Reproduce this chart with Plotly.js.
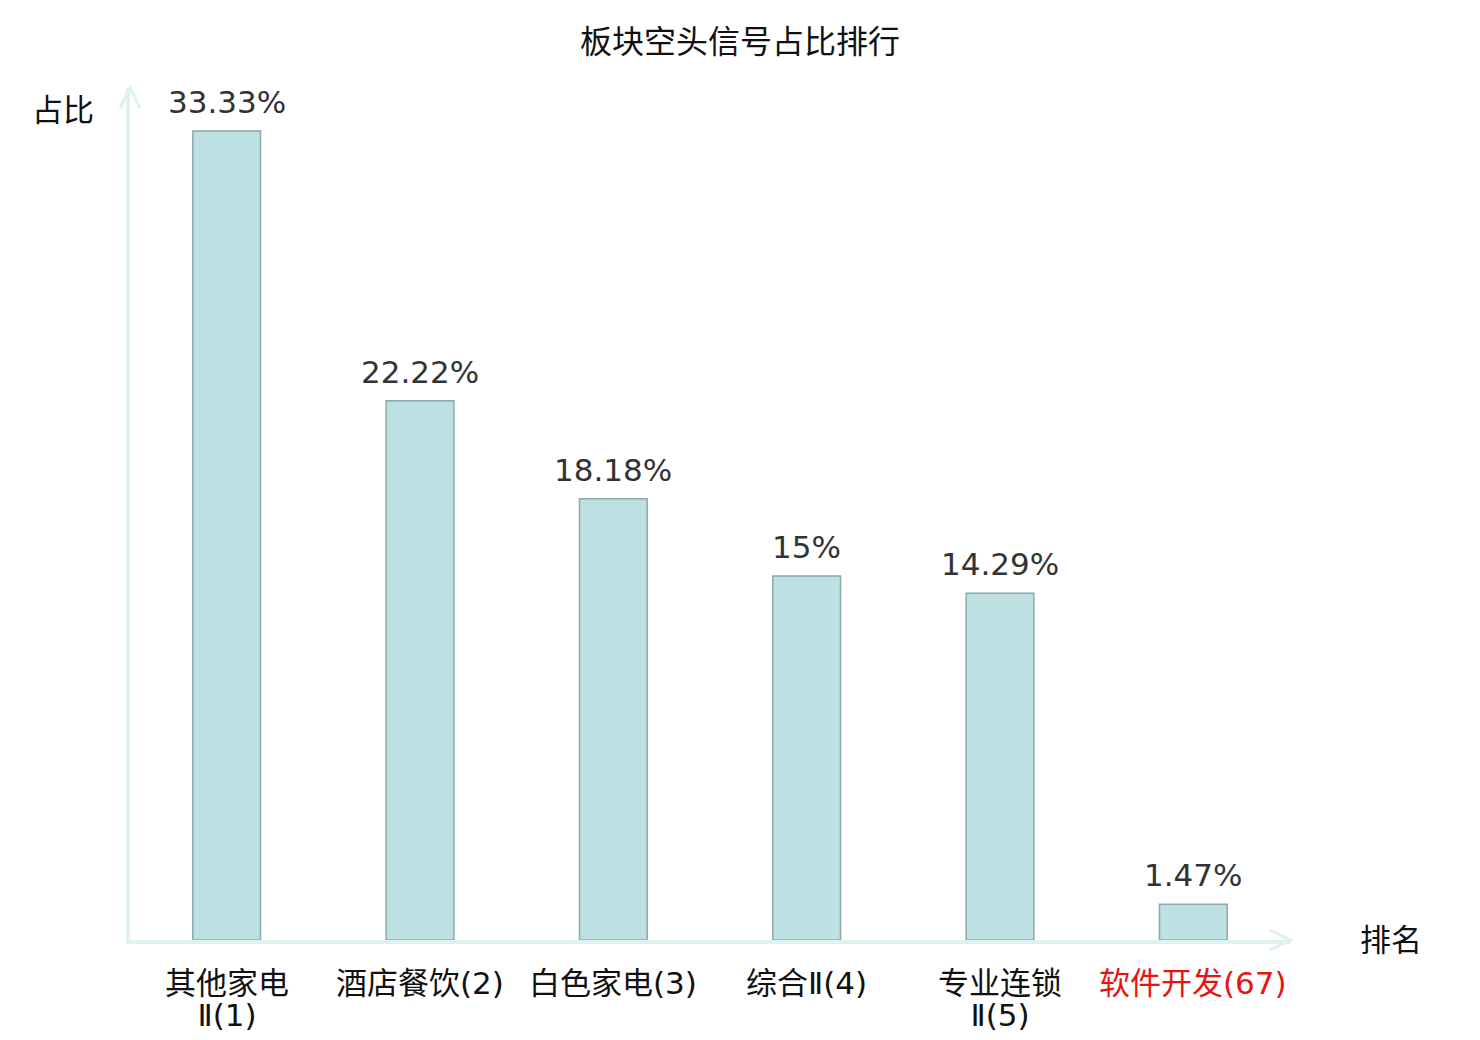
<!DOCTYPE html>
<html>
<head>
<meta charset="utf-8">
<script src="https://cdn.plot.ly/plotly-3.0.1.min.js"></script>
<style>
  html, body { margin: 0; padding: 0; background: #fff; }
  #chart { width: 1480px; height: 1040px; }
</style>
</head>
<body>
<div id="chart"></div>
<script>
  // ---------- Data ----------
  const labelLine1 = ["其他家电", "酒店餐饮(2)", "白色家电(3)", "综合Ⅱ(4)", "专业连锁", "软件开发(67)"];
  const labelLine2 = ["Ⅱ(1)", "", "", "", "Ⅱ(5)", ""];
  const shares = [33.33, 22.22, 18.18, 15, 14.29, 1.47];
  const valueText = ["33.33%", "22.22%", "18.18%", "15%", "14.29%", "1.47%"];
  const highlight = [false, false, false, false, false, true];

  // ---------- Style ----------
  const FONT = "DejaVu Sans, Noto Sans CJK SC, sans-serif";
  const AXIS_C = "#dff2ef";
  const idx = shares.map((_, i) => i);

  const trace = {
    type: "bar",
    x: idx,
    y: shares,
    width: 0.35,
    marker: { color: "#bde0e3", line: { color: "#8ea8a8", width: 1.5 } },
    hoverinfo: "skip",
  };

  const annotations = [];
  // value labels above the bars
  idx.forEach(i => {
    annotations.push({
      x: i, y: shares[i], xref: "x", yref: "y",
      text: valueText[i], showarrow: false,
      yanchor: "bottom", yshift: 9,
      font: { family: FONT, size: 31, color: "#333333" },
    });
  });
  // category labels under the axis (tight two-line labels: small base size
  // sets the line pitch, span sets the glyph size)
  idx.forEach(i => {
    const color = highlight[i] ? "#e8140f" : "#111111";
    const lines = [labelLine1[i]];
    if (labelLine2[i]) lines.push(labelLine2[i]);
    annotations.push({
      x: i, y: 0, xref: "x", yref: "paper",
      text: lines.map(t => '<span style="font-size:31px">' + t + "</span>").join("<br>"),
      showarrow: false,
      yanchor: "top", yshift: -23,
      font: { family: FONT, size: 24.6, color: color },
    });
  });
  // axis names
  annotations.push({
    x: -0.058, y: 1, xref: "paper", yref: "paper",
    text: "占比", showarrow: false, xanchor: "center", yanchor: "middle", yshift: -22,
    font: { family: FONT, size: 31, color: "#111111" },
  });
  annotations.push({
    x: 1.087, y: 0, xref: "paper", yref: "paper",
    text: "排名", showarrow: false, xanchor: "center", yanchor: "middle",
    font: { family: FONT, size: 31, color: "#111111" },
  });

  // arrow heads at the axis ends
  const shapes = [
    {
      type: "path", xref: "paper", yref: "paper",
      xsizemode: "pixel", ysizemode: "pixel", xanchor: 1, yanchor: 0,
      path: "M-20,10 L0,0 L-20,-10",
      line: { color: AXIS_C, width: 3.5 },
    },
    {
      type: "path", xref: "paper", yref: "paper",
      xsizemode: "pixel", ysizemode: "pixel", xanchor: 0, yanchor: 1,
      path: "M-10,-20 L0,0 L10,-20",
      line: { color: AXIS_C, width: 3.5 },
    },
  ];

  const layout = {
    width: 1480,
    height: 1040,
    paper_bgcolor: "#ffffff",
    plot_bgcolor: "#ffffff",
    margin: { l: 130, r: 190, t: 88, b: 100 },
    title: {
      text: "板块空头信号占比排行",
      x: 0.5, xref: "container", xanchor: "center",
      y: 0.9596, yref: "container", yanchor: "middle",
      font: { family: FONT, size: 32, color: "#111111" },
    },
    showlegend: false,
    xaxis: {
      range: [-0.5, 5.5],
      showgrid: false, zeroline: false,
      showline: true, linecolor: AXIS_C, linewidth: 4,
      showticklabels: false, ticks: "",
      fixedrange: true,
    },
    yaxis: {
      range: [0, 35.1],
      showgrid: false, zeroline: false,
      showline: true, linecolor: AXIS_C, linewidth: 4,
      showticklabels: false, ticks: "",
      fixedrange: true,
    },
    annotations: annotations,
    shapes: shapes,
  };

  Plotly.newPlot("chart", [trace], layout, { displayModeBar: false, staticPlot: true });
</script>
</body>
</html>
